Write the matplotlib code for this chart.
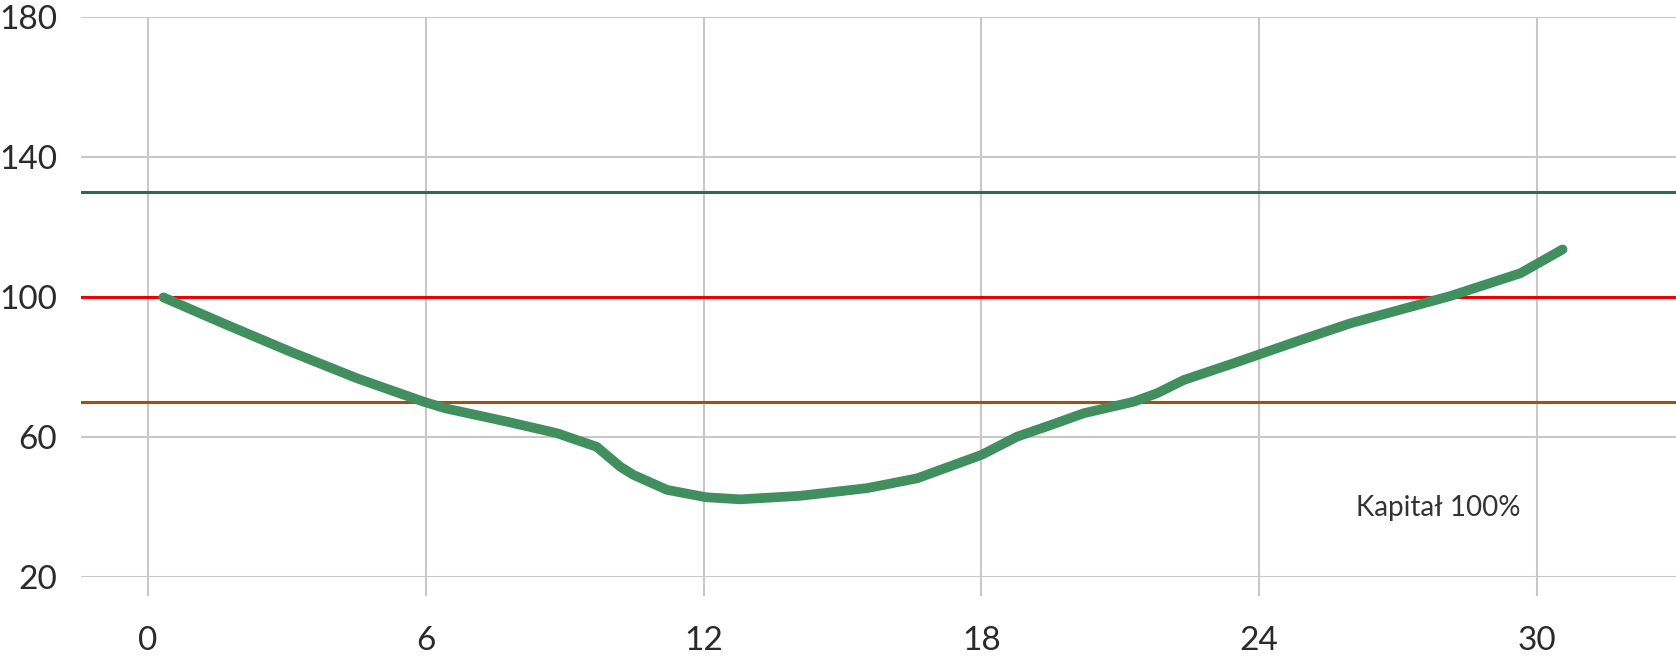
import matplotlib
matplotlib.use("Agg")
import matplotlib.pyplot as plt

# Data
x_vals = [0.33, 1.62, 3.07, 4.51, 5.95, 6.42, 7.75, 8.83, 9.69, 10.20, 10.48, 11.21,
          12.05, 12.79, 14.08, 15.53, 16.61, 18.00, 18.77, 19.49, 20.21, 21.29, 21.79,
          22.37, 23.45, 24.89, 25.97, 28.13, 29.64, 30.55]
y_vals = [99.8, 92.4, 84.3, 76.7, 70.0, 68.1, 64.3, 61.0, 57.1, 51.4, 49.1, 44.8,
          42.7, 42.1, 43.1, 45.3, 48.1, 54.8, 60.0, 63.3, 66.7, 70.0, 72.4,
          76.2, 81.0, 87.6, 92.4, 100.2, 106.7, 113.5]
ref_levels = [130, 100, 70]
ref_colors = ["#2f6b48", "#ee0000", "#a0520f"]
x_ticks = [0, 6, 12, 18, 24, 30]
y_ticks = [20, 60, 100, 140, 180]
label_text = "Kapitał 100%"

plt.rcParams['font.family'] = ['Lato', 'DejaVu Sans']

fig = plt.figure(figsize=(16.76, 6.59), dpi=100)
ax = fig.add_axes([0.0483, 0.1249, 0.9517, 0.8498])

ax.set_xlim(-1.45, 33.0)
ax.set_ylim(20, 180)
ax.set_xticks(x_ticks)
ax.set_yticks(y_ticks)
ax.grid(True, color="#c8c8c8", linewidth=1.5)
ax.set_axisbelow(True)
for s in ax.spines.values():
    s.set_visible(False)

ax.tick_params(axis='x', length=13.7, width=1.5, color="#c8c8c8", pad=22,
               labelsize=24, labelcolor="#2a2a2a")
ax.tick_params(axis='y', length=0, pad=17, labelsize=24, labelcolor="#2a2a2a")

for lvl, col in zip(ref_levels, ref_colors):
    ax.axhline(lvl, color=col, linewidth=2.2, zorder=2)

ax.plot(x_vals, y_vals, color="#418f5f", linewidth=7, solid_capstyle='round',
        solid_joinstyle='round', zorder=3)

ax.text(29.64, 39.6, label_text, ha='right', va='center', fontsize=20,
        color="#333333")

fig.savefig("out.png", dpi=100)
